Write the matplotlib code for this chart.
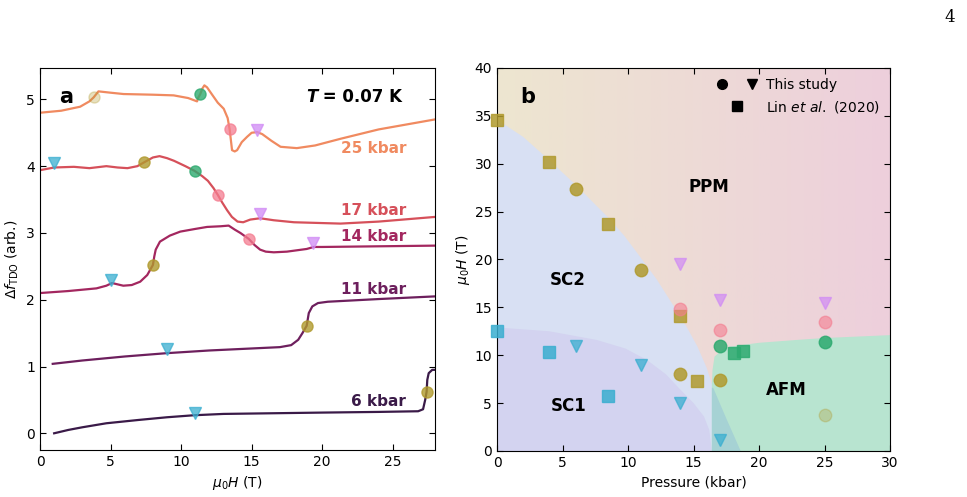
import numpy as np
import matplotlib
matplotlib.use("Agg")
import matplotlib.pyplot as plt
from matplotlib.colors import LinearSegmentedColormap
from matplotlib.lines import Line2D
from matplotlib.legend_handler import HandlerTuple

# ---- panel a: TDO curves (field in T, offset signal in arb.)
h6 = [1.0, 2.0, 3.0, 4.7, 7.0, 9.0, 10.9, 13.0, 16.5, 20.0, 24.0, 26.8, 27.15, 27.3, 27.4, 27.45, 27.55, 27.8, 28.0]
f6 = [0.0, 0.05, 0.09, 0.15, 0.2, 0.24, 0.27, 0.29, 0.3, 0.31, 0.32, 0.33, 0.36, 0.5, 0.62, 0.8, 0.9, 0.95, 0.95]

h11 = [0.9, 3, 6, 9, 12, 15, 17, 17.8, 18.3, 18.6, 18.9, 19.05, 19.3, 19.7, 20.4, 24, 28]
f11 = [1.04, 1.09, 1.15, 1.2, 1.24, 1.27, 1.29, 1.32, 1.40, 1.5, 1.61, 1.8, 1.9, 1.95, 1.97, 2.01, 2.05]

h14 = [0, 2, 4.0, 4.7, 5.1, 5.5, 5.9, 6.5, 7.1, 7.6, 8.0, 8.1, 8.2, 8.5, 9.2, 9.94, 11, 11.84, 12.8,
       13.37, 13.8, 14.2, 14.8, 15.2, 15.6, 16.0, 16.57, 17.5, 18.9, 19.4, 20, 24, 28]
f14 = [2.10, 2.13, 2.17, 2.21, 2.25, 2.23, 2.21, 2.22, 2.27, 2.37, 2.52, 2.65, 2.75, 2.87, 2.96, 3.02, 3.06,
       3.09, 3.10, 3.11, 3.05, 3.0, 2.91, 2.82, 2.75, 2.72, 2.71, 2.72, 2.76, 2.79, 2.79, 2.80, 2.81]

h17 = [0, 1.0, 2.4, 3.5, 4.7, 5.5, 6.2, 6.9, 7.4, 8.0, 8.47, 9.0, 9.5, 10.3, 10.95, 11.5, 11.9, 12.3, 12.6,
       12.9, 13.26, 13.6, 14.0, 14.4, 14.9, 15.6, 16.57, 18, 21.3, 24, 28]
f17 = [3.94, 3.98, 3.99, 3.97, 4.0, 3.98, 3.97, 4.0, 4.06, 4.13, 4.15, 4.12, 4.08, 4.0, 3.93, 3.85, 3.78,
       3.67, 3.57, 3.46, 3.34, 3.24, 3.17, 3.16, 3.20, 3.22, 3.19, 3.16, 3.14, 3.17, 3.24]

h25 = [0, 1.5, 2.84, 3.5, 3.8, 4.14, 5, 5.92, 8, 9.47, 10.5, 11.13, 11.2, 11.36, 11.5, 11.65, 11.84, 12.2,
       12.6, 13.02, 13.3, 13.44, 13.55, 13.61, 13.8, 13.97, 14.3, 14.68, 15.0, 15.39, 15.75, 16.4, 17.05,
       18.2, 19.5, 21.3, 24, 28]
f25 = [4.80, 4.83, 4.89, 4.97, 5.03, 5.12, 5.10, 5.08, 5.07, 5.06, 5.02, 4.97, 5.02, 5.08, 5.16, 5.21, 5.18,
       5.07, 4.95, 4.86, 4.72, 4.55, 4.35, 4.24, 4.22, 4.24, 4.36, 4.44, 4.5, 4.51, 4.48, 4.38, 4.29, 4.27,
       4.31, 4.41, 4.55, 4.70]

curve_labels = ["6 kbar", "11 kbar", "14 kbar", "17 kbar", "25 kbar"]
label_y = [0.48, 2.16, 2.94, 3.34, 4.27]
curve_colors = ["#3a1a48", "#6d1f5d", "#a3275f", "#d6505a", "#f08a60"]

# transition markers on the curves
a_tri_cyan_h = [10.95, 9.0, 5.0, 1.0]
a_tri_cyan_f = [0.31, 1.26, 2.29, 4.04]
a_olive_h = [27.4, 18.9, 8.0, 7.4]
a_olive_f = [0.62, 1.61, 2.52, 4.06]
a_pale_h = [3.8]
a_pale_f = [5.03]
a_green_h = [10.95, 11.35]
a_green_f = [3.93, 5.08]
a_pink_h = [14.8, 12.6, 13.45]
a_pink_f = [2.91, 3.57, 4.55]
a_tri_violet_h = [19.35, 15.6, 15.4]
a_tri_violet_f = [2.85, 3.28, 4.54]

# ---- panel b: phase diagram (pressure in kbar, field in T)
olive_p = [6, 11, 14, 17]
olive_h = [27.4, 18.9, 8.0, 7.4]
pale_p = [25]
pale_h = [3.8]
pink_p = [14, 17, 25]
pink_h = [14.8, 12.6, 13.5]
green_p = [17, 25]
green_h = [11.0, 11.4]
violet_p = [14, 17, 25]
violet_h = [19.5, 15.8, 15.5]
cyan_p = [6, 11, 14, 17]
cyan_h = [11.0, 9.0, 5.0, 1.1]
lin_olive_p = [0, 4, 8.5, 14, 15.3]
lin_olive_h = [34.6, 30.2, 23.7, 14.1, 7.3]
lin_cyan_p = [0, 4, 8.5]
lin_cyan_h = [12.5, 10.3, 5.7]
lin_green_p = [18.1, 18.8]
lin_green_h = [10.2, 10.4]

# phase boundaries
sc2_p = [0, 2, 3.8, 6, 8.4, 9.7, 10.8, 12.2, 13.5, 14.5, 15.3, 16.0, 16.5, 17.5, 18.6]
sc2_h = [34.6, 32.8, 30.6, 27.8, 24.5, 22.5, 20.5, 17.9, 15.1, 12.9, 10.9, 8.7, 6.6, 3.4, 0]
sc1_p = [0, 4, 7.6, 9.8, 11.45, 12.9, 14, 15.0, 15.8, 16.2, 16.4]
sc1_h = [12.9, 12.5, 11.6, 10.7, 9.5, 8.0, 6.4, 5.0, 3.6, 2.2, 0]
afm_p = [16.4, 16.4, 16.45, 16.6, 17.2, 17.8, 20, 22.9, 25, 30]
afm_h = [0, 7.0, 8.46, 9.85, 10.6, 10.9, 11.3, 11.6, 11.8, 12.1]

c_olive = "#b09a2e"
c_green = "#2eaa70"
c_pink = "#f47d90"
c_violet = "#d08af5"
c_cyan = "#3aaed0"

fig = plt.figure(figsize=(9.67, 4.97), dpi=100)
ax1 = fig.add_axes([0.0414, 0.0946, 0.4085, 0.7686])
ax2 = fig.add_axes([0.514, 0.0926, 0.4064, 0.7706])

for ax in (ax1, ax2):
    ax.tick_params(direction="in", top=True, right=True, labelsize=10, length=4)

# panel a
for h, f, c in zip([h6, h11, h14, h17, h25], [f6, f11, f14, f17, f25], curve_colors):
    ax1.plot(h, f, color=c, lw=1.6, zorder=2)
for lab, y, c in zip(curve_labels, label_y, curve_colors):
    ax1.text(25.95, y, lab, color=c, fontsize=11, fontweight="bold", ha="right", va="center")

mk = dict(ls="none", ms=8, zorder=3)
ax1.plot(a_tri_cyan_h, a_tri_cyan_f, "v", color=c_cyan, alpha=0.75, **mk)
ax1.plot(a_olive_h, a_olive_f, "o", color=c_olive, alpha=0.8, **mk)
ax1.plot(a_pale_h, a_pale_f, "o", color=c_olive, alpha=0.3, **mk)
ax1.plot(a_green_h, a_green_f, "o", color=c_green, alpha=0.8, **mk)
ax1.plot(a_pink_h, a_pink_f, "o", color=c_pink, alpha=0.75, **mk)
ax1.plot(a_tri_violet_h, a_tri_violet_f, "v", color=c_violet, alpha=0.75, **mk)

ax1.set_xlim(0, 28)
ax1.set_ylim(-0.25, 5.47)
ax1.set_xticks([0, 5, 10, 15, 20, 25])
ax1.set_yticks([0, 1, 2, 3, 4, 5])
ax1.set_xlabel(r"$\mu_0H$ (T)", fontsize=10)
ax1.set_ylabel(r"$\Delta f_{\mathrm{TDO}}$ (arb.)", fontsize=10, labelpad=4)
ax1.text(0.066, 0.925, "a", transform=ax1.transAxes, fontsize=15, fontweight="bold", ha="center", va="center")
t1 = ax1.text(18.85, 5.03, "T", fontsize=12, fontweight="bold", style="italic", ha="left", va="center")
ax1.annotate(" = 0.07 K", xy=(1, 0), xycoords=t1, fontsize=12, fontweight="bold", ha="left", va="bottom")

# panel b
grad = LinearSegmentedColormap.from_list("ppm", ["#ede6d0", "#edcfdc"])
ax2.imshow(np.linspace(0, 1, 256).reshape(1, -1), cmap=grad, extent=[0, 30, 0, 40], aspect="auto", zorder=0)
ax2.fill(list(sc2_p) + [0], list(sc2_h) + [0], color="#d8e0f3", lw=0, zorder=1)
ax2.fill(list(sc1_p) + [0], list(sc1_h) + [0], color="#d3d3f0", lw=0, zorder=1.1)
ax2.fill(list(afm_p) + [30], list(afm_h) + [0], color="#b8e4d0", lw=0, zorder=1.2)
ov_p = [p for p in sc2_p if p >= afm_p[0]]
ov_h = [h for p, h in zip(sc2_p, sc2_h) if p >= afm_p[0]]
ax2.fill([afm_p[0], afm_p[0]] + ov_p, [0, ov_h[0]] + ov_h, color="#a6d2d4", lw=0, zorder=1.3)

for x, y, s in [(16.2, 27.6, "PPM"), (5.4, 17.9, "SC2"), (5.5, 4.7, "SC1"), (22.1, 6.4, "AFM")]:
    ax2.text(x, y, s, fontsize=12, fontweight="bold", ha="center", va="center", zorder=5)

mk2 = dict(ls="none", ms=9, zorder=4, mew=1)
ax2.plot(lin_olive_p, lin_olive_h, "s", color=c_olive, alpha=0.85, clip_on=False, **mk2)
ax2.plot(lin_cyan_p, lin_cyan_h, "s", color=c_cyan, alpha=0.85, clip_on=False, **mk2)
ax2.plot(lin_green_p, lin_green_h, "s", color=c_green, alpha=0.85, **mk2)
ax2.plot(olive_p, olive_h, "o", color=c_olive, alpha=0.85, **mk2)
ax2.plot(pale_p, pale_h, "o", color=c_olive, alpha=0.3, **mk2)
ax2.plot(pink_p, pink_h, "o", color=c_pink, alpha=0.6, **mk2)
ax2.plot(green_p, green_h, "o", color=c_green, alpha=0.85, **mk2)
ax2.plot(violet_p, violet_h, "v", color=c_violet, alpha=0.7, **mk2)
ax2.plot(cyan_p, cyan_h, "v", color=c_cyan, alpha=0.75, **mk2)

ax2.set_xlim(0, 30)
ax2.set_ylim(0, 40)
ax2.set_xticks(range(0, 31, 5))
ax2.set_yticks(range(0, 41, 5))
ax2.set_xlabel("Pressure (kbar)", fontsize=10)
ax2.set_ylabel(r"$\mu_0H$ (T)", fontsize=10, labelpad=2)
ax2.text(0.078, 0.925, "b", transform=ax2.transAxes, fontsize=15, fontweight="bold", ha="center", va="center", zorder=5)

h_circ = Line2D([], [], marker="o", color="k", ls="none", ms=7)
h_tri = Line2D([], [], marker="v", color="k", ls="none", ms=7)
h_sq = Line2D([], [], marker="s", color="k", ls="none", ms=7)
leg = ax2.legend([(h_circ, h_tri), h_sq], ["This study", r"Lin $\it{et\ al.}$ (2020)"],
                 handler_map={tuple: HandlerTuple(ndivide=None, pad=1.2)},
                 loc="upper right", frameon=False, fontsize=10, handlelength=3.0,
                 handletextpad=0.6, borderaxespad=0.3, labelspacing=0.5)
leg.set_zorder(6)

fig.text(0.988, 0.965, "4", fontsize=12, family="DejaVu Serif", ha="right", va="center")

fig.savefig("out.png", dpi=100)
